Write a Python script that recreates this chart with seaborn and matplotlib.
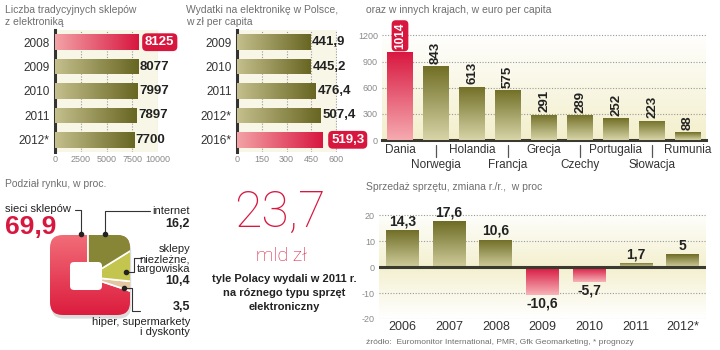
import numpy as np
import pandas as pd
import matplotlib
matplotlib.use("Agg")
import matplotlib.pyplot as plt
import seaborn as sns
from matplotlib import font_manager
from matplotlib.colors import LinearSegmentedColormap
from matplotlib.patches import FancyBboxPatch

# ---------------- data ----------------
shop_years = ["2008", "2009", "2010", "2011", "2012*"]
shop_counts = [8125, 8077, 7997, 7897, 7700]
shop_ticks = [0, 2500, 5000, 7500, 10000]

spend_years = ["2009", "2010", "2011", "2012*", "2016*"]
spend_pln = [441.9, 445.2, 476.4, 507.4, 519.3]
spend_ticks = [0, 150, 300, 450, 600]

countries = ["Dania", "Norwegia", "Holandia", "Francja", "Grecja",
             "Czechy", "Portugalia", "Słowacja", "Rumunia"]
spend_eur = [1014, 843, 613, 575, 291, 289, 252, 223, 88]
eur_ticks = [0, 300, 600, 900, 1200]

sales_years = ["2006", "2007", "2008", "2009", "2010", "2011", "2012*"]
sales_change = [14.3, 17.6, 10.6, -10.6, -5.7, 1.7, 5]
sales_ticks = [-20, -10, 0, 10, 20]

share_names = ["sieci sklepów", "hiper, supermarkety\ni dyskonty",
               "sklepy\nniezleżne,\ntargowiska", "internet"]
share_values = [69.9, 3.5, 10.4, 16.2]

headline_value = 23.7

# ---------------- style ----------------
sns.set_style("white")
fm = font_manager.fontManager.ttflist
names = {f.name for f in fm}
REG = "Liberation Sans" if "Liberation Sans" in names else "DejaVu Sans"
LIGHT = REG
LIGHT_W = "normal"
for cand in ["Roboto", "Lato", "Open Sans"]:
    if any(f.name == cand and str(f.weight) in ("300", "light", "200", "250") for f in fm):
        LIGHT, LIGHT_W = cand, "light"
        break
plt.rcParams["font.family"] = [REG, "DejaVu Sans"]

RED = "#d8173f"
OLIVE_D = "#686622"
OLIVE_M = "#8e8c45"
GRID = "#9a9a9a"
TXT = "#222222"
GRAY = "#8a8a8a"

W, H = 720, 350
fig = plt.figure(figsize=(W / 100, H / 100), dpi=100)


def px_axes(x0, y0, x1, y1, **kw):
    return fig.add_axes([x0 / W, 1 - y1 / H, (x1 - x0) / W, (y1 - y0) / H], **kw)


def fmt(v):
    return ("%g" % v).replace(".", ",")


def grad_fill(ax, patch, c1, c2, horizontal, z=3):
    x, y = patch.get_x(), patch.get_y()
    w, h = patch.get_width(), patch.get_height()
    x0, x1 = sorted([x, x + w])
    y0, y1 = sorted([y, y + h])
    cmap = LinearSegmentedColormap.from_list("g", [c1, c2])
    if horizontal:
        arr = np.linspace(0, 1, 128).reshape(1, -1)
    else:
        arr = np.linspace(0, 1, 128).reshape(-1, 1)
    im = ax.imshow(arr, extent=[x0, x1, y0, y1], cmap=cmap, aspect="auto",
                   origin="upper", zorder=z, interpolation="bilinear")
    im.set_clip_path(patch)


def bg_grad(ax, extent, c_top, c_bot):
    cmap = LinearSegmentedColormap.from_list("bg", [c_top, c_bot])
    arr = np.linspace(0, 1, 128).reshape(-1, 1)
    ax.imshow(arr, extent=extent, cmap=cmap, aspect="auto", origin="upper",
              zorder=0, interpolation="bilinear")


# ---------------- horizontal bar panels ----------------
def hbar_panel(rect, cats, vals, ticks, xmax, red_idx, off_plain, off_red):
    ax = px_axes(*rect)
    ax.set_facecolor("#f8f6e6")
    sns.barplot(x=vals, y=cats, orient="h", color=OLIVE_M, width=0.64,
                saturation=1, ax=ax, zorder=2)
    for i, p in enumerate(ax.patches):
        p.set_edgecolor("none")
        if i == red_idx:
            grad_fill(ax, p, "#f3a2a6", RED, True)
        else:
            grad_fill(ax, p, "#c4bf8c", OLIVE_D, True)
    for i, v in enumerate(vals):
        if i == red_idx:
            ax.text(v + off_red, i, fmt(v), ha="left", va="center",
                    color="white", fontweight="bold", fontsize=9.5,
                    bbox=dict(boxstyle="round,pad=0.22,rounding_size=0.35",
                              fc=RED, ec="none"), clip_on=False, zorder=6)
        else:
            ax.text(v + off_plain, i, fmt(v), ha="left", va="center",
                    color=TXT, fontweight="bold", fontsize=9.5,
                    clip_on=False, zorder=6)
    ax.set_xlim(0, xmax)
    ax.set_ylim(len(cats) - 0.5, -0.5)
    ax.set_xticks(ticks)
    ax.set_xticklabels([str(t) for t in ticks])
    ax.tick_params(axis="x", length=0, pad=2, labelsize=6.5, labelcolor=GRAY)
    ax.tick_params(axis="y", length=0, pad=4, labelsize=8.5, labelcolor="#333333")
    ax.grid(axis="x", linestyle=(0, (1, 1.5)), color=GRID, linewidth=0.8)
    ax.grid(axis="y", visible=False)
    ax.set_axisbelow(True)
    for s in ["top", "right", "bottom"]:
        ax.spines[s].set_visible(False)
    ax.spines["left"].set_color("#333333")
    ax.spines["left"].set_linewidth(2.2)
    ax.set_xlabel("")
    ax.set_ylabel("")
    return ax


hbar_panel((55, 30, 158, 152), shop_years, shop_counts, shop_ticks, 10000, 0, 150, 620)
hbar_panel((237, 30, 337, 152), spend_years, spend_pln, spend_ticks, 605, 4, 12, 50)

# ---------------- country panel ----------------
ax3 = px_axes(382, 31, 706, 140)
bg_grad(ax3, [-0.5, len(countries) - 0.5, 0, 1250], "#ffffff", "#f3efcc")
sns.barplot(x=countries, y=spend_eur, color=OLIVE_M, width=0.72, saturation=1,
            ax=ax3, zorder=2)
for i, p in enumerate(ax3.patches):
    p.set_edgecolor("none")
    if i == 0:
        grad_fill(ax3, p, RED, "#f6aab0", False)
    else:
        grad_fill(ax3, p, "#716f25", "#d7d4a8", False)
for i, v in enumerate(spend_eur):
    if i == 0:
        ax3.text(i, v + 30, fmt(v), rotation=90, ha="center", va="bottom",
                 color="white", fontweight="bold", fontsize=8.5,
                 bbox=dict(boxstyle="round,pad=0.2,rounding_size=0.35",
                           fc=RED, ec="none"), clip_on=False, zorder=6)
    else:
        ax3.text(i, v + 25, fmt(v), rotation=90, ha="center", va="bottom",
                 color=TXT, fontweight="bold", fontsize=9.5, zorder=6)
ax3.set_xlim(-0.5, len(countries) - 0.5)
ax3.set_ylim(0, 1250)
ax3.set_yticks(eur_ticks)
ax3.set_yticklabels([str(t) for t in eur_ticks])
ax3.set_xticks(range(len(countries)))
ax3.set_xticklabels([])
ax3.tick_params(axis="y", length=0, pad=3, labelsize=6.5, labelcolor=GRAY)
ax3.tick_params(axis="x", length=0)
ax3.grid(axis="y", linestyle=(0, (1, 1.5)), color=GRID, linewidth=0.8)
ax3.grid(axis="x", visible=False)
ax3.set_axisbelow(True)
for s in ["top", "right", "left"]:
    ax3.spines[s].set_visible(False)
ax3.spines["bottom"].set_color("#3a3a30")
ax3.spines["bottom"].set_linewidth(2.2)
ax3.set_xlabel("")
ax3.set_ylabel("")
xt = ax3.get_xaxis_transform()
for i, c in enumerate(countries):
    if i % 2 == 0:
        ax3.text(i, -0.09, c, transform=xt, ha="center", va="center",
                 fontsize=8.5, color="#333333", clip_on=False)
    else:
        ax3.plot([i, i], [-0.045, -0.16], transform=xt, color="#555555",
                 lw=0.9, clip_on=False)
        ax3.text(i, -0.23, c, transform=xt, ha="center", va="center",
                 fontsize=8.5, color="#333333", clip_on=False)

# ---------------- sales change panel ----------------
ax4 = px_axes(379, 212, 706, 319)
n4 = len(sales_years)
bg_grad(ax4, [-0.5, n4 - 0.5, 0, 21.2], "#ffffff", "#f4f0d0")
bg_grad(ax4, [-0.5, n4 - 0.5, -20, 0], "#f4f0d0", "#ffffff")
sns.barplot(x=sales_years, y=sales_change, color=OLIVE_M, width=0.7,
            saturation=1, ax=ax4, zorder=2)
for i, p in enumerate(ax4.patches):
    p.set_edgecolor("none")
    if sales_change[i] < 0:
        grad_fill(ax4, p, RED, "#f7b3b8", False)
    else:
        grad_fill(ax4, p, "#6e6c24", "#cfcc9c", False)
for i, v in enumerate(sales_change):
    if v >= 0:
        ax4.text(i, v + 0.6, fmt(v), ha="center", va="bottom", color=TXT,
                 fontweight="bold", fontsize=10, zorder=6)
    else:
        ax4.text(i, v - 0.6, fmt(v), ha="center", va="top", color=TXT,
                 fontweight="bold", fontsize=10, zorder=6)
ax4.axhline(0, color="#3a3a30", lw=2.2, zorder=5)
ax4.set_xlim(-0.5, n4 - 0.5)
ax4.set_ylim(-20, 21.2)
ax4.set_yticks(sales_ticks)
ax4.set_yticklabels([str(t) for t in sales_ticks])
ax4.tick_params(axis="y", length=0, pad=3, labelsize=6.5, labelcolor=GRAY)
ax4.tick_params(axis="x", length=0, pad=1.5, labelsize=9, labelcolor="#333333")
ax4.grid(axis="y", linestyle=(0, (1, 1.5)), color=GRID, linewidth=0.8)
ax4.grid(axis="x", visible=False)
ax4.set_axisbelow(True)
for s in ax4.spines.values():
    s.set_visible(False)
ax4.set_xlabel("")
ax4.set_ylabel("")

# ---------------- market share (square pie) ----------------
axp = px_axes(40, 225, 140, 325)
shadow = FancyBboxPatch((-0.97, -1.09), 2.0, 2.0,
                        boxstyle="round,pad=0,rounding_size=0.32",
                        fc="#dcdcdc", ec="none", zorder=0)
axp.add_patch(shadow)
clip = FancyBboxPatch((-1, -1), 2.0, 2.0, boxstyle="round,pad=0,rounding_size=0.32",
                      fc="none", ec="none", zorder=0)
axp.add_patch(clip)
red_cmap = LinearSegmentedColormap.from_list("r", ["#f26d78", "#dc1c3e"])
imr = axp.imshow(np.linspace(0, 1, 128).reshape(-1, 1), extent=[-1, 1, -1, 1],
                 cmap=red_cmap, aspect="auto", origin="upper", zorder=1)
imr.set_clip_path(clip)
wedges, _ = axp.pie(share_values, colors=["none", "#e3c7a0", "#c4c54e", "#878636"],
                    startangle=90, counterclock=True, radius=2.4,
                    center=(-0.05, -0.05),
                    wedgeprops=dict(edgecolor="white", linewidth=1.2))
for w_ in wedges:
    w_.set_clip_on(True)
    w_.set_clip_path(clip)
    w_.set_zorder(2)
hole = FancyBboxPatch((-0.5, -0.375), 0.8, 0.7,
                      boxstyle="round,pad=0,rounding_size=0.1",
                      fc="white", ec="none", zorder=4)
axp.add_patch(hole)
axp.set_xlim(-1.25, 1.25)
axp.set_ylim(-1.25, 1.25)
axp.set_aspect("auto")
axp.axis("off")

# ---------------- overlay texts ----------------
ov = fig.add_axes([0, 0, 1, 1], zorder=10)
ov.set_xlim(0, W)
ov.set_ylim(H, 0)
ov.axis("off")
ov.patch.set_alpha(0)

tkw = dict(fontsize=7.5, color="#6f6f6f", va="center")
ov.text(5, 10, "Liczba tradycyjnych sklepów", **tkw)
ov.text(5, 22, "z elektroniką", **tkw)
ov.text(186, 10, "Wydatki na elektronikę w Polsce,", **tkw)
ov.text(186, 22, "w zł per capita", **tkw)
ov.text(366, 10, "oraz w innych krajach, w euro per capita", **tkw)
ov.text(5, 184, "Podział rynku, w proc.", **tkw)
ov.text(366, 187, "Sprzedaż sprzętu, zmiana r./r.,  w proc", **tkw)
ov.text(366, 343, "źródło:  Euromonitor International, PMR, Gfk Geomarketing, * prognozy",
        fontsize=6, color="#6f6f6f", va="center")

# pie labels
nkw = dict(fontsize=8, color=TXT, va="center")
bkw = dict(fontsize=9, color=TXT, va="center", fontweight="bold")
ov.text(5, 209, share_names[0], ha="left", **nkw)
ov.text(5, 227, fmt(share_values[0]), ha="left", fontsize=19, color=RED,
        fontweight="bold", va="center")
ov.text(190, 211, share_names[3], ha="right", **nkw)
ov.text(190, 224, fmt(share_values[3]), ha="right", **bkw)
ov.text(190, 259, share_names[2], ha="right", linespacing=1.05, **nkw)
ov.text(190, 281, fmt(share_values[2]), ha="right", **bkw)
ov.text(190, 307, fmt(share_values[1]), ha="right", **bkw)
ov.text(190, 327, share_names[1], ha="right", linespacing=1.05, **nkw)

lkw = dict(color="#333333", lw=0.8)
ov.plot([75, 81, 81], [210, 210, 233], **lkw)
ov.plot([150, 105, 105], [211, 211, 233], **lkw)
ov.plot([126, 134, 134, 142], [272, 272, 258, 258], **lkw)
ov.plot([124, 132, 132, 140], [288, 288, 311, 311], **lkw)
ov.scatter([81, 105, 126, 124], [234, 234, 272, 288], s=9, color="#222222", zorder=11)

# headline
ov.text(280, 213, fmt(headline_value), ha="center", va="center", fontsize=36,
        color=RED, family=[LIGHT, "DejaVu Sans"], fontweight=LIGHT_W)
ov.text(282, 256, "mld zł", ha="center", va="center", fontsize=14,
        color=RED, family=[LIGHT, "DejaVu Sans"], fontweight=LIGHT_W)
hkw = dict(ha="center", va="center", fontsize=8, color=TXT, fontweight="bold")
ov.text(284, 279, "tyle Polacy wydali w 2011 r.", **hkw)
ov.text(284, 293, "na róznego typu sprzęt", **hkw)
ov.text(284, 307, "elektroniczny", **hkw)

fig.savefig("out.png", dpi=100, facecolor="white")
